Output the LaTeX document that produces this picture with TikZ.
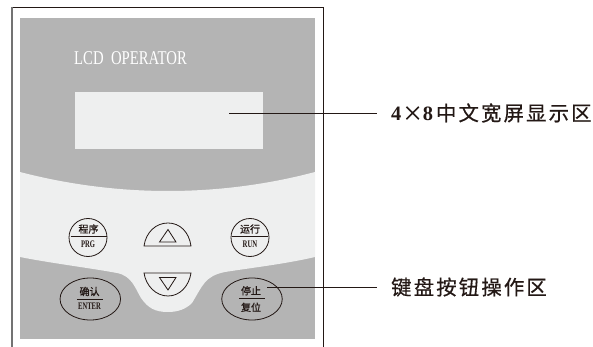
\documentclass[tikz,border=0pt]{standalone}
\usepackage{fontspec}
\usetikzlibrary{shapes.geometric}
\setmainfont{Liberation Serif}
\newfontfamily\cjk[LetterSpace=10.5,FakeBold=0.6]{Noto Sans CJK SC}
\newfontfamily\cjkb[FakeBold=0.6]{Noto Sans CJK SC}
\definecolor{panel}{HTML}{B4B4B4}
\definecolor{lightp}{HTML}{EEEFEF}
\definecolor{ink}{HTML}{231815}
\tikzset{
  btn/.style={draw=ink,line width=0.8pt,fill=none,inner sep=0pt},
  keycap/.style={font=\cjkb\fontsize{10}{11}\selectfont,text=ink,inner sep=0pt},
  capen/.style={font=\bfseries\fontsize{10}{11}\selectfont,text=ink,inner sep=0pt},
  leader/.style={draw=ink,line width=0.9pt},
  lbl/.style={font=\cjk\fontsize{20.4}{22}\selectfont,text=ink,anchor=west,inner sep=0pt},
  keyshape/.style={draw=ink,line width=0.8pt,fill=lightp},
  bar/.style={draw=ink,line width=0.8pt}
}
\begin{document}
\begin{tikzpicture}[x=1pt,y=-1pt]
\useasboundingbox (0,0) rectangle (593,347);
\fill[panel] (20,18) rectangle (315,339);
\draw[ink,line width=0.8pt] (12,7) -- (323,7) -- (323,347);
\draw[gray!90!black,line width=1.3pt] (12,7) -- (12,347);
\fill[lightp] (75,92) rectangle (263,149);
\node[font=\fontsize{19.5}{20}\selectfont,text=white,anchor=west,inner sep=0pt] (title) at (74,58.5) {\scalebox{0.755}[1]{LCD\ \ OPERATOR}};
\fill[lightp] (20,172) .. controls (70,185) and (120,191) .. (168,191)
  .. controls (216,191) and (266,185) .. (315,172)
  -- (315,257) .. controls (285,264) and (250,268) .. (225,272)
  .. controls (205,276) and (203,285) .. (192,303)
  .. controls (186,309) and (178,312) .. (168,312)
  .. controls (155,312) and (148,308) .. (141,298)
  .. controls (135,288) and (132,276) .. (117,273)
  .. controls (90,268) and (50,263) .. (20,257) -- cycle;
\node[btn,circle,minimum size=38pt] (prg) at (88,237.5) {};
\node[btn,circle,minimum size=38pt] (run) at (250,237.5) {};
\node[btn,ellipse,minimum width=60.5pt,minimum height=42pt] (enter) at (90.3,299) {};
\node[btn,ellipse,minimum width=60.5pt,minimum height=42pt] (stop) at (252,299) {};
\draw[keyshape] (144,246) .. controls (146,232) and (156,223) .. (168,223) .. controls (180,223) and (189,232) .. (191,246) -- cycle;
\draw[keyshape] (144,273) .. controls (146,286) and (156,296) .. (168,296) .. controls (180,296) and (189,286) .. (191,273) -- cycle;
\draw[keyshape] (168,229.5) -- (176,242) -- (159.5,242) -- cycle;
\draw[keyshape] (168,290) -- (176,277.5) -- (159.5,277.5) -- cycle;
\draw[bar] (70.5,236.7) -- (106.7,236.7);
\draw[bar] (232,236.7) -- (268,236.7);
\draw[bar] (77,299) -- (103,299);
\draw[bar] (239,298.7) -- (265,298.7);
\node[keycap] (t1) at (88.5,229) {程序};
\node[capen] (t2) at (88,244) {\scalebox{0.66}[1]{PRG}};
\node[keycap] (t3) at (250,229) {运行};
\node[capen] (t4) at (250,244) {\scalebox{0.68}[1]{RUN}};
\node[keycap] (t5) at (89.5,291.5) {确认};
\node[capen] (t6) at (89.5,306.7) {\scalebox{0.66}[1]{ENTER}};
\node[keycap] (t7) at (251,290.7) {停止};
\node[keycap] (t8) at (251,307.3) {复位};
\node[lbl] (l1) at (391,113) {{\rmfamily\bfseries 4\hspace{1pt}}×{\rmfamily\bfseries 8\hspace{3pt}}中文宽屏显示区};
\node[lbl] (l2) at (391,287) {键盘按钮操作区};
\coordinate (a1) at (229,113);
\coordinate (a2) at (267,287);
\coordinate (b1) at (377,113);
\coordinate (b2) at (377,287);
\draw[leader] (a1) -- (b1);
\draw[leader] (a2) -- (b2);
\end{tikzpicture}
\end{document}
